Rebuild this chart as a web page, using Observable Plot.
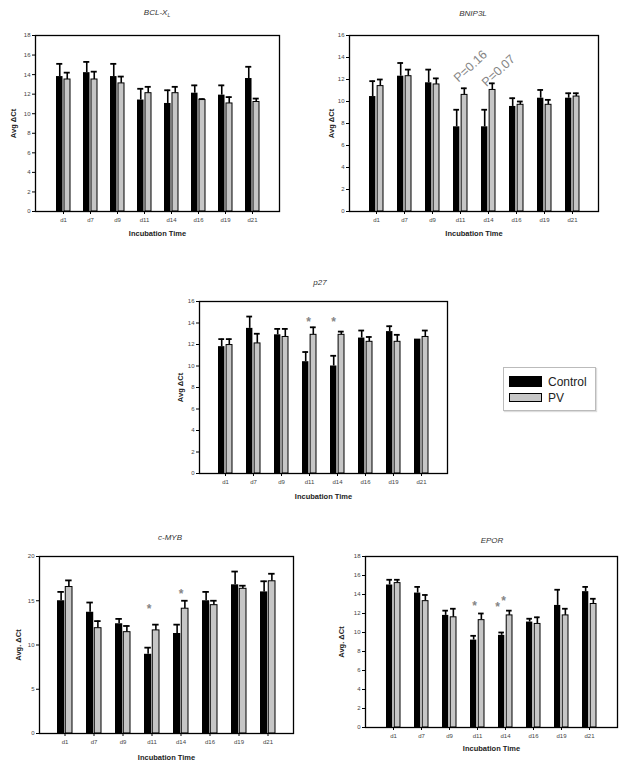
<!DOCTYPE html>
<html><head><meta charset="utf-8">
<script src="https://cdn.jsdelivr.net/npm/d3@7"></script>
<script src="https://cdn.jsdelivr.net/npm/@observablehq/plot@0.6"></script>
<style>
body{margin:0;background:#fff;font-family:"Liberation Sans",Arial,sans-serif;}
#fig{position:relative;width:629px;height:767px;overflow:hidden;background:#fff;}
#fig svg{position:absolute;}
.ttl{position:absolute;transform:translate(-50%,-50%);font-style:italic;font-size:8px;color:#333;white-space:nowrap;}
.ttl sub{font-size:5px;}
#legend{position:absolute;left:503px;top:367px;width:93px;height:44px;border:1px solid #bbb;box-shadow:1px 1px 1px #ddd;box-sizing:border-box;}
.sw{position:absolute;left:5px;width:33px;box-sizing:border-box;border:1px solid #000;}
.lt{position:absolute;left:44px;font-size:12px;color:#222;line-height:12px;}
</style></head><body><div id="fig"></div>
<script>
const days = ["d1","d7","d9","d11","d14","d16","d19","d21"];
const groups = ["Control","PV"];

// BCL-XL
const bclControl = [13.8, 14.2, 13.8, 11.4, 11.05, 12.1, 11.9, 13.6];
const bclControlSem = [1.3, 1.1, 1.3, 1.15, 1.35, 0.8, 1.0, 1.2];
const bclPV = [13.5, 13.5, 13.1, 12.1, 12.1, 11.4, 11.05, 11.2];
const bclPVSem = [0.7, 0.8, 0.7, 0.65, 0.65, 0.1, 0.65, 0.35];
// BNIP3L
const bnipControl = [10.45, 12.3, 11.7, 7.7, 7.7, 9.55, 10.3, 10.3];
const bnipControlSem = [1.4, 1.2, 1.2, 1.55, 1.55, 0.75, 0.75, 0.45];
const bnipPV = [11.4, 12.3, 11.55, 10.6, 11.05, 9.7, 9.7, 10.45];
const bnipPVSem = [0.6, 0.6, 0.55, 0.6, 0.6, 0.3, 0.45, 0.3];
const bnipNotes = [{day: "d11", y: 13.2, text: "P=0.16"}, {day: "d14", y: 12.8, text: "P=0.07"}];
// p27
const p27Control = [11.8, 13.5, 12.9, 10.4, 10.0, 12.6, 13.2, 12.5];
const p27ControlSem = [0.7, 1.1, 0.55, 0.9, 0.95, 0.7, 0.5, 0];
const p27PV = [11.95, 12.1, 12.7, 12.9, 12.9, 12.25, 12.25, 12.7];
const p27PVSem = [0.55, 0.9, 0.75, 0.7, 0.3, 0.45, 0.65, 0.6];
const p27Notes = [{day: "d11", y: 14.1, text: "*"}, {day: "d14", y: 14.1, text: "*"}];
// c-MYB
const mybControl = [15.0, 13.7, 12.4, 8.95, 11.3, 15.0, 16.8, 16.0];
const mybControlSem = [1.0, 1.1, 0.55, 0.75, 1.0, 1.0, 1.5, 1.2];
const mybPV = [16.55, 11.9, 11.45, 11.65, 14.1, 14.5, 16.35, 17.2];
const mybPVSem = [0.75, 0.8, 0.7, 0.65, 0.9, 0.5, 0.35, 0.85];
const mybNotes = [{day: "d11", y: 14.0, text: "*"}, {day: "d14", y: 15.7, text: "*"}];
// EPOR
const eporControl = [15.0, 14.15, 11.8, 9.2, 9.7, 11.1, 12.85, 14.3];
const eporControlSem = [0.55, 0.65, 0.5, 0.45, 0.3, 0.35, 1.65, 0.5];
const eporPV = [15.2, 13.3, 11.6, 11.3, 11.8, 10.9, 11.8, 13.0];
const eporPVSem = [0.35, 0.65, 0.9, 0.7, 0.5, 0.7, 0.7, 0.55];
const eporNotes = [{day: "d11", y: 12.75, text: "*"}, {day: "d14", y: 12.7, text: "*"}, {day: "d14", y: 13.25, text: "*"}];

const fig = document.getElementById("fig");
const PI = 0.5, PO = 0.62;

function panel(cfg) {
  const [x0, y0, x1, y1] = cfg.frame;
  const mL = 40, mR = 6, mT = 6, mB = 30;
  const W = x1 - x0, H = y1 - y0;
  const step = W / (days.length - PI + 2 * PO);
  const bw = step * (1 - PI);
  const half = bw / 2;
  const rows = (vals, sems, g) => vals.map((v, i) => ({day: days[i], group: g, mean: v, top: v + sems[i], sem: sems[i]}));
  const ctrl = rows(cfg.control, cfg.controlSem, groups[0]);
  const pv = rows(cfg.pv, cfg.pvSem, groups[1]);
  const cC = bw / 4 - 0.25, cP = 3 * bw / 4 + 0.25, cap = 3;
  const marks = [
    Plot.ruleX(ctrl.filter(d => d.sem > 0), {x: "day", y1: "mean", y2: "top", dx: cC - half, stroke: "black", strokeWidth: 1.6}),
    Plot.ruleX(pv.filter(d => d.sem > 0), {x: "day", y1: "mean", y2: "top", dx: cP - half, stroke: "black", strokeWidth: 1.6}),
    Plot.tickY(ctrl.filter(d => d.sem > 0), {x: "day", y: "top", insetLeft: cC - cap, insetRight: bw - cC - cap, stroke: "black", strokeWidth: 1.8}),
    Plot.tickY(pv.filter(d => d.sem > 0), {x: "day", y: "top", insetLeft: cP - cap, insetRight: bw - cP - cap, stroke: "black", strokeWidth: 1.8}),
    Plot.barY(ctrl, {x: "day", y: "mean", fill: "black", insetRight: half + 0.5}),
    Plot.barY(pv, {x: "day", y: "mean", fill: "#c6c6c6", stroke: "black", strokeWidth: 1, insetLeft: half + 1}),
    Plot.frame({stroke: "black", strokeWidth: 1.3}),
    Plot.axisX({tickSize: 3, tickPadding: 3, fontSize: 6, fill: "#444", label: null}),
    Plot.axisY({ticks: d3.range(0, cfg.yMax + 0.01, cfg.yStep), tickSize: 3, tickPadding: 2, fontSize: 6, fill: "#444", label: null}),
    Plot.text(["Incubation Time"], {frameAnchor: "bottom", dy: cfg.xLabelOffset, textAnchor: "middle", lineAnchor: "middle", fontSize: 7.5, fontWeight: "bold", fill: "#222"}),
    Plot.text([cfg.yLabel], {frameAnchor: "left", dx: -cfg.yLabelOffset, rotate: -90, textAnchor: "middle", lineAnchor: "middle", fontSize: 7.5, fontWeight: "bold", fill: "#222"})
  ];
  if (cfg.notes) {
    cfg.notes.forEach((n, i) => {
      const o = cfg.noteStyle[i];
      marks.push(Plot.text([n], {x: "day", y: "y", text: "text", dx: o.dx, rotate: o.rotate || 0, fontSize: o.size, fontWeight: o.weight || "normal", fill: "#858585", textAnchor: "middle", lineAnchor: "middle"}));
    });
  }
  const svg = Plot.plot({
    width: W + mL + mR, height: H + mT + mB,
    marginLeft: mL, marginRight: mR, marginTop: mT, marginBottom: mB,
    x: {type: "band", domain: days, paddingInner: PI, paddingOuter: PO, axis: null},
    y: {domain: [0, cfg.yMax], axis: null},
    style: {fontFamily: "Liberation Sans, Arial, sans-serif", background: "transparent", overflow: "visible"},
    marks
  });
  svg.style.left = (x0 - mL) + "px";
  svg.style.top = (y0 - mT) + "px";
  fig.appendChild(svg);
  const t = document.createElement("div");
  t.className = "ttl";
  t.style.left = cfg.titlePos[0] + "px";
  t.style.top = cfg.titlePos[1] + "px";
  t.innerHTML = cfg.title;
  fig.appendChild(t);
}

const star = (dx) => ({dx, size: 12, weight: "bold"});

panel({title: "BCL-X<sub>L</sub>", titlePos: [157, 13], frame: [35, 35, 279, 211], yMax: 18, yStep: 2,
  control: bclControl, controlSem: bclControlSem, pv: bclPV, pvSem: bclPVSem,
  yLabel: "Avg ΔCt", yLabelOffset: 22, xLabelOffset: 22});
panel({title: "BNIP3L", titlePos: [473, 13], frame: [349, 35, 598, 211], yMax: 16, yStep: 2,
  control: bnipControl, controlSem: bnipControlSem, pv: bnipPV, pvSem: bnipPVSem,
  yLabel: "Avg ΔCt", yLabelOffset: 18, xLabelOffset: 22,
  notes: bnipNotes, noteStyle: [{dx: 10, rotate: -43, size: 12.5}, {dx: 10, rotate: -43, size: 12.5}]});
panel({title: "p27", titlePos: [320, 282], frame: [199, 301, 447, 473], yMax: 16, yStep: 2,
  control: p27Control, controlSem: p27ControlSem, pv: p27PV, pvSem: p27PVSem,
  yLabel: "Avg ΔCt", yLabelOffset: 19, xLabelOffset: 23,
  notes: p27Notes, noteStyle: [star(-1), star(-4)]});
panel({title: "c-MYB", titlePos: [170, 537], frame: [39, 556, 293, 733], yMax: 20, yStep: 5,
  control: mybControl, controlSem: mybControlSem, pv: mybPV, pvSem: mybPVSem,
  yLabel: "Avg. ΔCt", yLabelOffset: 21, xLabelOffset: 24,
  notes: mybNotes, noteStyle: [star(-3), star(0)]});
panel({title: "EPOR", titlePos: [492, 540], frame: [365, 556, 617, 727], yMax: 18, yStep: 2,
  control: eporControl, controlSem: eporControlSem, pv: eporPV, pvSem: eporPVSem,
  yLabel: "Avg. ΔCt", yLabelOffset: 24, xLabelOffset: 21,
  notes: eporNotes, noteStyle: [star(-3), star(-8), star(-2)]});

// legend
const lg = document.createElement("div");
lg.id = "legend";
lg.innerHTML = '<div class="sw" style="top:8px;height:11px;background:#000"></div>' +
  '<div class="lt" style="top:8px">' + groups[0] + '</div>' +
  '<div class="sw" style="top:25px;height:9px;background:#c6c6c6"></div>' +
  '<div class="lt" style="top:24px">' + groups[1] + '</div>';
fig.appendChild(lg);
</script></body></html>
